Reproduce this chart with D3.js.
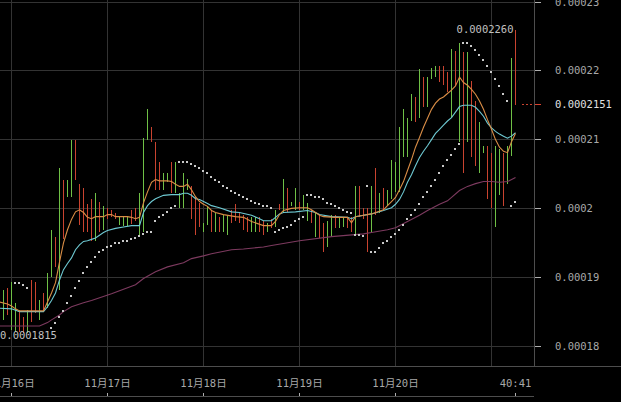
<!DOCTYPE html>
<html><head><meta charset="utf-8">
<script src="https://cdn.jsdelivr.net/npm/d3@7/dist/d3.min.js"></script>
<style>html,body{margin:0;padding:0;background:#000;overflow:hidden}</style>
</head><body>
<svg id="c" width="621" height="402"></svg>
<script>
// ---- data (hourly bars, first bar 11/15 20:00) ----
const firstBar = new Date(2021, 10, 15, 20, 0);
const high = [0.0001867,0.0001879,0.0001882,0.0001885,0.0001893,0.0001863,0.0001852,0.0001842,0.0001852,0.0001896,
0.0001893,0.0001867,0.0001877,0.0001906,0.0001969,0.0001959,0.0002059,0.0002042,0.0002042,0.0002100,
0.0002100,0.0002035,0.0002030,0.0002006,0.0002013,0.0002023,0.0002010,0.0002004,0.0002001,0.0001998,
0.0001994,0.0001988,0.0001988,0.0001987,0.0001998,0.0002001,0.0002023,0.0002102,0.0002145,0.0002118,
0.0002097,0.0002068,0.0002052,0.0002052,0.0002067,0.0002068,0.0002023,0.0002052,0.0002043,0.0002032,
0.0002017,0.0002008,0.0001979,0.0002003,0.0001998,0.0001994,0.0001987,0.0001991,0.0001991,0.0001998,
0.0002006,0.0001994,0.0001991,0.0001988,0.0001987,0.0001987,0.0001987,0.0001981,0.0001979,0.0001984,
0.0001998,0.0002006,0.0002043,0.0002029,0.0002010,0.0002030,0.0002010,0.0002020,0.0002008,0.0001998,
0.0001994,0.0001991,0.0001979,0.0001981,0.0001991,0.0001991,0.0001988,0.0001988,0.0001987,0.0001987,
0.0002033,0.0002033,0.0002001,0.0002001,0.0002033,0.0002059,0.0002023,0.0002029,0.0002027,0.0002071,
0.0002068,0.0002119,0.0002144,0.0002132,0.0002166,0.0002162,0.0002202,0.0002191,0.0002191,0.0002204,
0.0002207,0.0002207,0.0002207,0.0002198,0.0002231,0.0002229,0.0002240,0.0002227,0.0002227,0.0002185,
0.0002156,0.0002125,0.0002090,0.0002090,0.0002081,0.0002090,0.0002086,0.0002081,0.0002090,0.0002218,
0.0002260];
const low = [0.0001815,0.0001841,0.0001838,0.0001845,0.0001823,0.0001820,0.0001820,0.0001819,0.0001819,0.0001835,
0.0001848,0.0001838,0.0001850,0.0001855,0.0001901,0.0001915,0.0001882,0.0001955,0.0002017,0.0002017,
0.0002042,0.0001976,0.0001965,0.0001966,0.0001952,0.0001952,0.0001966,0.0001969,0.0001984,0.0001987,
0.0001984,0.0001976,0.0001975,0.0001975,0.0001978,0.0001981,0.0001962,0.0001966,0.0002100,0.0002096,
0.0002027,0.0002027,0.0002027,0.0002038,0.0002023,0.0002023,0.0002001,0.0002001,0.0002027,0.0001984,
0.0001962,0.0001973,0.0001965,0.0001976,0.0001966,0.0001965,0.0001965,0.0001966,0.0001962,0.0001979,
0.0001982,0.0001979,0.0001969,0.0001966,0.0001965,0.0001965,0.0001965,0.0001962,0.0001966,0.0001972,
0.0001973,0.0001998,0.0001994,0.0001995,0.0002003,0.0001998,0.0001998,0.0001998,0.0001982,0.0001979,
0.0001959,0.0001957,0.0001937,0.0001944,0.0001959,0.0001972,0.0001972,0.0001973,0.0001972,0.0001965,
0.0001962,0.0001987,0.0001984,0.0001937,0.0001965,0.0001991,0.0001994,0.0001998,0.0002004,0.0002013,
0.0002024,0.0002024,0.0002074,0.0002074,0.0002127,0.0002125,0.0002132,0.0002148,0.0002148,0.0002188,
0.0002191,0.0002183,0.0002180,0.0002169,0.0002132,0.0002178,0.0002096,0.0002052,0.0002097,0.0002074,
0.0002061,0.0002052,0.0002081,0.0002013,0.0002001,0.0001973,0.0002019,0.0002003,0.0002035,0.0002076,
0.0002150];
const rising = [0,1,1,0,1,1,0,0,1,0, 0,1,0,1,1,0,1,0,1,1, 0,0,0,0,0,1,0,1,0,0, 0,1,1,1,0,0,1,1,1,0,
0,0,1,1,0,1,1,1,1,0, 0,0,1,1,0,1,0,1,1,0, 0,0,0,0,1,1,0,0,1,0, 1,0,1,0,1,1,0,1,1,0,
1,0,0,1,1,0,1,1,0,0, 1,0,0,0,1,0,1,0,1,1, 1,1,1,1,1,0,1,0,1,1, 1,0,0,0,1,0,1,0,1,0,
0,1,1,0,0,1,1,0,1,1, 0];
const sar = [null,null,null,null,null,0.0001892,0.0001892,0.0001889,0.0001885,null,
null,null,null,null,0.0001826,0.0001834,0.0001842,0.0001851,0.0001863,0.0001873,
0.0001885,0.0001895,0.0001906,0.0001915,0.0001922,0.0001930,0.0001936,0.0001940,0.0001944,0.0001946,
0.0001949,0.0001950,0.0001953,0.0001953,0.0001955,0.0001957,0.0001960,0.0001963,0.0001965,0.0001966,
0.0001981,0.0001987,0.0001991,0.0001995,0.0002000,0.0002003,0.0002067,0.0002067,0.0002067,0.0002065,
0.0002062,0.0002058,0.0002054,0.0002051,0.0002046,0.0002042,0.0002038,0.0002033,0.0002030,0.0002026,
0.0002023,0.0002020,0.0002017,0.0002014,0.0002011,0.0002008,0.0002007,0.0002004,0.0002003,0.0002001,
0.0001965,0.0001968,0.0001971,0.0001973,0.0001976,0.0001981,0.0001984,0.0001987,0.0002019,0.0002019,
0.0002017,0.0002016,0.0002013,0.0002008,0.0002006,0.0002003,0.0002000,0.0001998,0.0001995,0.0001994,
0.0001961,0.0001961,0.0001960,0.0002033,0.0001936,0.0001937,0.0001943,0.0001949,0.0001953,0.0001959,
0.0001963,0.0001969,0.0001976,0.0001984,0.0001991,0.0001998,0.0002006,0.0002016,0.0002024,0.0002033,
0.0002042,0.0002052,0.0002062,0.0002071,0.0002078,0.0002086,0.0002094,0.0002240,0.0002240,0.0002236,
0.0002230,0.0002223,0.0002215,0.0002207,0.0002198,0.0002188,0.0002178,0.0002167,0.0002156,0.0002003,
0.0002010];
// moving averages: bar number -> value
const maFastBar = [0,1,3,4,5,6,12,13,14,15,16,17,18,19,20,21,22,23,24,25,27,28,29,30,33,34,35,36,37,38,39,40,41,42,43,44,45,46,47,48,49,50,51,52,53,54,55,57,60,62,64,67,69,70,71,72,74,76,78,79,80,81,82,85,88,89,90,92,94,97,98,99,100,101,102,103,104,105,106,107,108,109,110,111,112,113,114,115,116,117,118,119,120,121,122,123,124,125,126,127,128,129,130];
const maFast = [0.0001867,0.0001864,0.0001861,0.0001858,0.0001854,0.0001851,0.0001851,0.0001864,0.0001877,0.0001892,0.0001922,0.0001950,0.0001969,0.0001984,0.0001995,0.0001998,0.0001994,0.0001987,0.0001985,0.0001988,
0.0001988,0.0001991,0.0001991,0.0001988,
0.0001988,0.0001987,0.0001985,0.0001987,0.0002008,0.0002024,0.0002038,0.0002042,0.0002040,0.0002040,0.0002040,0.0002039,0.0002035,0.0002032,0.0002032,0.0002035,0.0002027,0.0002017,0.0002010,0.0002006,0.0002003,0.0001997,0.0001994,
0.0001991,0.0001988,0.0001987,0.0001981,0.0001975,0.0001975,
0.0001981,0.0001991,0.0001997,
0.0002000,0.0002001,0.0002001,0.0001998,0.0001994,0.0001990,0.0001988,
0.0001987,0.0001987,0.0001979,0.0001988,0.0001990,0.0001992,
0.0001998,0.0002004,0.0002010,0.0002016,0.0002027,0.0002039,0.0002055,0.0002071,0.0002089,0.0002103,0.0002118,0.0002131,0.0002144,0.0002153,0.0002159,0.0002162,0.0002167,0.0002172,0.0002178,0.0002191,0.0002183,0.0002179,0.0002173,0.0002166,0.0002156,0.0002144,0.0002129,0.0002115,0.0002100,0.0002089,0.0002083,0.0002081,0.0002097,0.0002109];
const maMidBar = [0,1,4,6,12,13,14,15,16,17,18,19,20,21,22,23,24,25,27,28,30,32,34,36,37,38,39,40,42,44,46,47,48,49,50,51,53,54,56,59,61,64,66,67,69,70,71,72,75,78,80,81,84,88,89,90,94,97,99,100,101,102,103,104,105,106,107,108,109,110,111,112,113,114,115,116,117,118,119,120,121,122,123,124,125,126,127,128,129,130];
const maMid = [0.0001858,0.0001855,0.0001854,0.0001850,
0.0001850,0.0001857,0.0001866,0.0001877,0.0001896,0.0001911,0.0001920,0.0001928,0.0001940,0.0001947,0.0001952,0.0001953,0.0001955,0.0001957,
0.0001965,0.0001968,0.0001971,0.0001973,0.0001975,0.0001975,
0.0001994,0.0002004,0.0002010,0.0002014,
0.0002019,0.0002020,0.0002020,0.0002022,0.0002022,0.0002019,0.0002014,0.0002013,
0.0002007,0.0002004,0.0002001,0.0001995,0.0001994,0.0001990,0.0001985,0.0001982,0.0001982,
0.0001987,0.0001992,0.0001994,0.0001995,0.0001997,0.0001994,0.0001991,0.0001988,0.0001987,0.0001985,0.0001988,0.0001992,0.0001997,0.0002001,
0.0002006,0.0002013,0.0002024,0.0002038,0.0002049,0.0002062,0.0002074,0.0002083,0.0002091,0.0002100,0.0002109,0.0002115,0.0002121,0.0002127,0.0002132,0.0002140,0.0002148,0.0002150,0.0002150,0.0002150,0.0002147,0.0002141,0.0002134,0.0002124,0.0002117,0.0002112,0.0002108,0.0002105,0.0002102,0.0002105,0.0002110];
const maSlowBar = [0,11,13,14,16,17,19,22,24,29,35,37,40,43,47,49,52,54,59,62,67,69,76,84,92,94,98,100,103,106,108,111,113,116,118,120,122,124,126,128,130];
const maSlow = [0.0001829,0.0001829,0.0001834,0.0001838,0.0001845,0.0001850,0.0001857,0.0001863,0.0001866,0.0001876,
0.0001889,0.0001898,0.0001908,0.0001915,0.0001921,0.0001927,0.0001931,0.0001934,0.0001940,0.0001941,
0.0001944,0.0001946,0.0001953,0.0001959,0.0001963,0.0001965,0.0001969,0.0001972,0.0001981,0.0001990,
0.0001997,0.0002006,0.0002011,0.0002026,0.0002032,0.0002036,0.0002039,0.0002039,0.0002038,0.0002039,
0.0002045];
const lastPrice = 0.0002151;
const yTicks = [0.00018, 0.00019, 0.0002, 0.00021, 0.00022, 0.00023];
const yTickLabels = ["0.00018", "0.00019", "0.0002", "0.00021", "0.00022", "0.00023"];
const dayStarts = [new Date(2021,10,16), new Date(2021,10,17), new Date(2021,10,18), new Date(2021,10,19), new Date(2021,10,20), new Date(2021,10,21)];
const xTickTimes = [new Date(2021,10,16), new Date(2021,10,17), new Date(2021,10,18), new Date(2021,10,19), new Date(2021,10,20), new Date(2021,10,21,6)];
const xTickLabels = ["11月16日", "11月17日", "11月18日", "11月19日", "11月20日", "40:41"];

// ---- layout ----
const plotRight = 534, timeAxisTop = 366, timeAxisBottom = 396;
const HOUR = 3600e3;
const barTime = i => new Date(+firstBar + i * HOUR);
const x = d3.scaleTime().domain([barTime(0), barTime(high.length - 1)]).range([-4.5, 515.5]);
const y = d3.scaleLinear().domain([0.00018, 0.00023]).range([346, 2]);
const crisp = v => Math.floor(v) + 0.5;

const FONT = "'DejaVu Sans Mono','Noto Sans CJK SC',monospace";
const svg = d3.select("#c");
svg.append("rect").attr("width", 621).attr("height", 402).attr("fill", "#000");

const grid = svg.append("g").attr("shape-rendering", "crispEdges").attr("stroke", "#333").attr("stroke-width", 1);
grid.selectAll(".gy").data(yTicks).join("line")
  .attr("x1", 0).attr("x2", plotRight).attr("y1", d => crisp(y(d))).attr("y2", d => crisp(y(d)));
grid.selectAll(".gx").data(dayStarts).join("line")
  .attr("x1", d => crisp(x(d))).attr("x2", d => crisp(x(d))).attr("y1", 0).attr("y2", timeAxisTop);

// axes frame
const frame = svg.append("g").attr("shape-rendering", "crispEdges").attr("stroke", "#4d4d4d");
frame.append("line").attr("x1", plotRight + 0.5).attr("x2", plotRight + 0.5).attr("y1", 0).attr("y2", timeAxisTop);
frame.append("line").attr("x1", 0).attr("x2", 621).attr("y1", timeAxisTop + 0.5).attr("y2", timeAxisTop + 0.5);
frame.append("line").attr("x1", 0).attr("x2", plotRight).attr("y1", timeAxisBottom + 0.5).attr("y2", timeAxisBottom + 0.5);

// bars
const idx = d3.range(high.length);
svg.append("g").attr("shape-rendering", "crispEdges").selectAll("rect").data(idx).join("rect")
  .attr("x", i => Math.floor(x(barTime(i))))
  .attr("width", 1)
  .attr("y", i => Math.round(y(high[i])))
  .attr("height", i => Math.max(1, Math.round(y(low[i])) - Math.round(y(high[i]))))
  .attr("fill", i => rising[i] ? "#6fc046" : "#c9432f");

// moving averages
const maLine = d3.line().x(d => x(barTime(d[0]))).y(d => y(d[1]));
const maSets = [[maSlowBar, maSlow, "#7d3a5f"], [maMidBar, maMid, "#6ec9d2"], [maFastBar, maFast, "#d98d46"]];
maSets.forEach(([bars, vals, col]) => {
  svg.append("path").datum(bars.map((b, k) => [b, vals[k]]))
    .attr("d", maLine).attr("fill", "none").attr("stroke", col).attr("stroke-width", 1.1);
});

// parabolic SAR dots
svg.append("g").attr("shape-rendering", "crispEdges").selectAll("rect")
  .data(idx.filter(i => sar[i] != null)).join("rect")
  .attr("x", i => Math.floor(x(barTime(i))) - 1)
  .attr("y", i => Math.round(y(sar[i])) - 1)
  .attr("width", 2).attr("height", 2).attr("fill", "#c8c8c8");

// y axis
const yAxis = svg.append("g");
yAxis.selectAll("line").data(yTicks).join("line").attr("shape-rendering", "crispEdges")
  .attr("x1", plotRight + 1).attr("x2", plotRight + 7)
  .attr("y1", d => crisp(y(d))).attr("y2", d => crisp(y(d))).attr("stroke", "#b0b0b0");
yAxis.selectAll("text").data(yTicks).join("text")
  .attr("x", plotRight + 21).attr("y", d => y(d)).attr("dy", "0.35em")
  .attr("font-family", FONT).attr("font-size", 10.5).attr("fill", "#a8a8a8")
  .text((d, k) => yTickLabels[k]);

// last price line
const lastI = high.length - 1;
const py = crisp(y(lastPrice));
svg.append("line").attr("shape-rendering", "crispEdges")
  .attr("x1", Math.floor(x(barTime(lastI))) + 7).attr("x2", plotRight).attr("y1", py).attr("y2", py)
  .attr("stroke", "#c9432f").attr("stroke-dasharray", "2,2");
svg.append("line").attr("shape-rendering", "crispEdges")
  .attr("x1", plotRight + 1).attr("x2", plotRight + 7).attr("y1", py).attr("y2", py).attr("stroke", "#d9432f");
svg.append("text").attr("x", plotRight + 21).attr("y", y(lastPrice)).attr("dy", "0.35em")
  .attr("font-family", FONT).attr("font-size", 10.5).attr("fill", "#e0e0e0")
  .text(lastPrice.toFixed(7));

// max / min annotations
const maxI = d3.maxIndex(high), minI = d3.minIndex(low);
svg.append("text").attr("x", x(barTime(maxI)) - 2).attr("y", y(high[maxI])).attr("dy", "0.35em")
  .attr("text-anchor", "end").attr("font-family", FONT).attr("font-size", 10.5).attr("fill", "#c0c0c0")
  .text(high[maxI].toFixed(7));
svg.append("text").attr("x", x(barTime(minI)) + 4.5).attr("y", y(low[minI])).attr("dy", "0.35em")
  .attr("text-anchor", "start").attr("font-family", FONT).attr("font-size", 10.5).attr("fill", "#c0c0c0")
  .text(low[minI].toFixed(7));

// time axis
const tAxis = svg.append("g");
tAxis.selectAll("line").data(xTickTimes).join("line").attr("shape-rendering", "crispEdges")
  .attr("x1", d => crisp(x(d))).attr("x2", d => crisp(x(d)))
  .attr("y1", timeAxisBottom - 3).attr("y2", timeAxisBottom).attr("stroke", "#b0b0b0");
tAxis.selectAll("text").data(xTickTimes).join("text")
  .attr("x", d => x(d)).attr("y", 383).attr("dy", "0.35em").attr("text-anchor", "middle")
  .attr("font-family", FONT).attr("font-size", 10.5).attr("fill", "#a8a8a8")
  .text((d, k) => xTickLabels[k]);
</script>
</body></html>
